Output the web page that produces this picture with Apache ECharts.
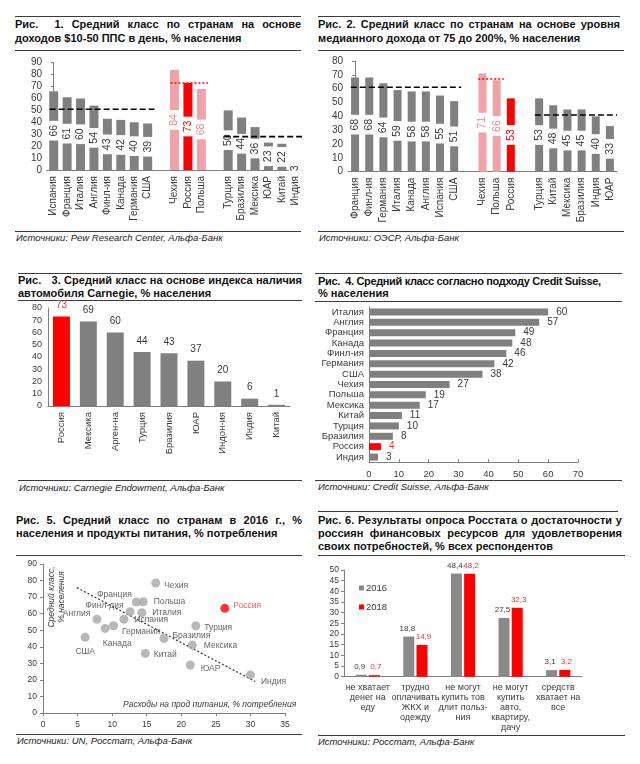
<!DOCTYPE html>
<html><head><meta charset="utf-8">
<script src="https://cdn.jsdelivr.net/npm/echarts@6/dist/echarts.min.js"></script>
<style>
body{margin:0;background:#fff;width:640px;height:764px;position:relative;overflow:hidden;font-family:"Liberation Sans",Arial,sans-serif;}
.hl{position:absolute;height:0;border-top:1.5px solid #3c3c3c;}
.t{position:absolute;font-weight:bold;font-size:11px;line-height:13px;color:#111;white-space:nowrap;}
.j{text-align:justify;text-align-last:justify;}
.src{position:absolute;font-style:italic;font-size:9.5px;color:#222;white-space:nowrap;}
.ch{position:absolute;}
</style></head><body>

<!-- Fig 1 -->
<div class="hl" style="left:15px;top:16px;width:286px"></div>
<div class="t j" style="left:15px;top:18px;width:286px">Рис.&nbsp; 1. Средний класс по странам на основе</div>
<div class="t" style="left:15px;top:32px">доходов $10-50 ППС в день, % населения</div>
<div class="hl" style="left:15px;top:50px;width:286px"></div>
<div class="ch" id="c1" style="left:0;top:55px;width:310px;height:175px"></div>
<div class="hl" style="left:15px;top:231px;width:286px"></div>
<div class="src" style="left:16px;top:232px">Источники: Pew Research Center, Альфа-Банк</div>

<!-- Fig 2 -->
<div class="hl" style="left:318px;top:16px;width:302px"></div>
<div class="t j" style="left:318px;top:18px;width:302px">Рис. 2. Средний класс по странам на основе уровня</div>
<div class="t" style="left:318px;top:31.5px">медианного дохода от 75 до 200%, % населения</div>
<div class="hl" style="left:318px;top:50px;width:306px"></div>
<div class="ch" id="c2" style="left:315px;top:55px;width:325px;height:175px"></div>
<div class="hl" style="left:318px;top:231px;width:306px"></div>
<div class="src" style="left:319px;top:232px">Источники: ОЭСР, Альфа-Банк</div>

<!-- Fig 3 -->
<div class="hl" style="left:18px;top:272.5px;width:284px"></div>
<div class="t j" style="left:18px;top:274px;width:284px">Рис.&nbsp;&nbsp; 3. Средний класс на основе индекса наличия</div>
<div class="t" style="left:18px;top:287px">автомобиля Carnegie, % населения</div>
<div class="hl" style="left:18px;top:300px;width:284px"></div>
<div class="ch" id="c3" style="left:0;top:300px;width:310px;height:180px"></div>
<div class="hl" style="left:18px;top:480px;width:284px"></div>
<div class="src" style="left:19px;top:482px">Источники: Carnegie Endowment, Альфа-Банк</div>

<!-- Fig 4 -->
<div class="hl" style="left:315px;top:273px;width:307px"></div>
<div class="t" style="left:318px;top:275px;letter-spacing:-0.35px">Рис.&nbsp; 4. Средний класс согласно подходу Credit Suisse,</div>
<div class="t" style="left:318px;top:287px">% населения</div>
<div class="hl" style="left:315px;top:300.5px;width:307px"></div>
<div class="ch" id="c4" style="left:315px;top:300px;width:325px;height:180px"></div>
<div class="hl" style="left:315px;top:480px;width:307px"></div>
<div class="src" style="left:318px;top:481px">Источники: Credit Suisse, Альфа-Банк</div>

<!-- Fig 5 -->
<div class="t j" style="left:16px;top:513.5px;width:286px">Рис. 5. Средний класс по странам в 2016 г., %</div>
<div class="t" style="left:16px;top:527px">населения и продукты питания, % потребления</div>
<div class="hl" style="left:16px;top:555px;width:286px"></div>
<div class="ch" id="c5" style="left:0;top:555px;width:310px;height:178px"></div>
<div class="hl" style="left:16px;top:734px;width:286px"></div>
<div class="src" style="left:17px;top:735px">Источники: UN, Росстат, Альфа-Банк</div>

<!-- Fig 6 -->
<div class="hl" style="left:318px;top:511px;width:300px"></div>
<div class="t j" style="left:318px;top:513.5px;width:304px">Рис. 6. Результаты опроса Росстата о достаточности у</div>
<div class="t j" style="left:318px;top:526.5px;width:304px">россиян финансовых ресурсов для удовлетворения</div>
<div class="t" style="left:318px;top:539.5px">своих потребностей, % всех респондентов</div>
<div class="hl" style="left:318px;top:555px;width:307px"></div>
<div class="ch" id="c6" style="left:315px;top:556px;width:325px;height:178px"></div>
<div class="hl" style="left:318px;top:735px;width:307px"></div>
<div class="src" style="left:318px;top:736px">Источники: Росстат, Альфа-Банк</div>

<script>
// ---------- DATA ----------
// Fig 1
const fig1Cats = ['Испания','Франция','Италия','Англия','Финл-ия','Канада','Германия','США','','Чехия','Россия','Польша','','Турция','Бразилия','Мексика','ЮАР','Китай','Индия'];
const fig1Vals = [66,61,60,54,43,42,40,39,null,84,73,68,null,50,44,36,23,22,3];
const fig1Light = ['Чехия','Польша'];
const fig1Red = ['Россия'];
const fig1Groups = [
  {first:'Испания', last:'США', avg:51, red:false},
  {first:'Чехия', last:'Польша', avg:73, red:true},
  {first:'Турция', last:'Индия', avg:28, red:false}
];
// Fig 2
const fig2Cats = ['Франция','Финл-ия','Германия','Италия','Канада','Англия','Испания','США','','Чехия','Польша','Россия','','Турция','Китай','Мексика','Бразилия','Индия','ЮАР'];
const fig2Vals = [68,68,64,59,58,58,55,51,null,71,66,53,null,53,48,45,45,40,33];
const fig2Light = ['Чехия','Польша'];
const fig2Red = ['Россия'];
const fig2Groups = [
  {first:'Франция', last:'США', avg:61, red:false},
  {first:'Чехия', last:'Польша', avg:67, red:true},
  {first:'Турция', last:'ЮАР', avg:41, red:false}
];
// Fig 3
const fig3Cats = ['Россия','Мексика','Арген-на','Турция','Бразилия','ЮАР','Индон-ия','Индия','Китай'];
const fig3Vals = [73,69,60,44,43,37,20,6,1];
// Fig 4
const fig4Cats = ['Италия','Англия','Франция','Канада','Финл-ия','Германия','США','Чехия','Польша','Мексика','Китай','Турция','Бразилия','Россия','Индия'];
const fig4Vals = [60,57,49,48,46,42,38,27,19,17,11,10,8,4,3];
// Fig 5
const fig5Names = ['Чехия','Франция','Польша','Финл-дия','Италия','Испания','Англия','Германия','Канада','США','Бразилия','Мексика','Китай','ЮАР','Индия','Турция','Россия'];
const fig5Food  = [16.3,13.5,14.5,12.6,14.3,11.7,7.8,10.2,9.0,6.1,17.5,21.6,14.8,21.3,30.0,22.1,26.3];
const fig5Mid   = [78.5,67.0,67.2,61.2,60.6,56.6,56.6,52.7,51.1,45.7,45.0,41.0,36.0,29.0,23.0,52.7,63.2];
const fig5Trend = [[4.9,75.7],[30.7,19.0]];
// Fig 6
const fig6Cats = ['не хватает\nденег на\nеду','трудно\nоплачивать\nЖКХ и\nодежду','не могут\nкупить тов\nдлит польз-\nния','не могут\nкупить\nавто,\nквартиру,\nдачу','средств\nхватает на\nвсе'];
const fig6Y2016 = [0.9,18.8,48.4,27.5,3.1];
const fig6Y2018 = [0.7,14.9,48.2,32.3,3.2];

// ---------- STYLE ----------
const FONT = '"Liberation Sans", Arial, sans-serif';
const AX = '#7f7f7f', TXT = '#3a3a3a', GREY = '#808080', LIGHT = '#eda3a8', RED = '#ff0000';
const axisCommon = {axisLine:{show:true,lineStyle:{color:AX,width:1}}, splitLine:{show:false}};

function floatBarChart(el, cats, vals, light, red, groups, ymax, grid, barW){
  const c = echarts.init(document.getElementById(el));
  const data = cats.map((n,i)=>{
    if(vals[i]==null) return null;
    let col = GREY, lc = TXT;
    if(light.includes(n)){col = LIGHT; lc = '#e88a92';}
    if(red.includes(n)){col = RED; lc = RED;}
    return {value:vals[i], itemStyle:{color:col}, label:{color:lc}};
  });
  const lines = groups.map(g=>({
    type:'line', xAxisIndex:1, yAxisIndex:0, symbol:'none', silent:true, z:5,
    data:[[cats.indexOf(g.first)-0.3, g.avg],[cats.indexOf(g.last)+0.5, g.avg]],
    lineStyle: g.red ? {color:RED,width:1.6,type:[2,2]} : {color:'#000',width:1.6,type:[6,3]}
  }));
  c.setOption({
    animation:false, textStyle:{fontFamily:FONT},
    grid:grid,
    xAxis:[
      Object.assign({type:'category', data:cats, axisTick:{show:false},
        axisLabel:{rotate:90, interval:0, fontSize:10, color:TXT, margin:6}}, axisCommon),
      {type:'value', min:-0.5, max:cats.length-0.5, show:false}
    ],
    yAxis:Object.assign({type:'value', min:0, max:ymax, interval:10,
      axisTick:{show:true,length:3,lineStyle:{color:AX}},
      axisLabel:{fontSize:10, color:TXT, margin:5}}, axisCommon),
    series:[{type:'bar', barWidth:barW, data:data, z:2,
      label:{show:true, position:'inside', rotate:90, backgroundColor:'#fff', padding:[1,4], fontSize:10.5, fontFamily:FONT}}].concat(lines)
  });
}

floatBarChart('c1', fig1Cats, fig1Vals, fig1Light, fig1Red, fig1Groups, 90, {left:47, top:7.7, width:255, height:107.3}, 9);
floatBarChart('c2', fig2Cats, fig2Vals, fig2Light, fig2Red, fig2Groups, 80, {left:33, top:6, width:269, height:110.7}, 8);

// Fig 3
(function(){
  const c = echarts.init(document.getElementById('c3'));
  c.setOption({
    animation:false, textStyle:{fontFamily:FONT},
    grid:{left:48, top:8, width:242, height:98},
    xAxis:Object.assign({type:'category', data:fig3Cats, axisTick:{show:false},
      axisLabel:{rotate:90, interval:0, fontSize:9.5, color:TXT, margin:6}}, axisCommon),
    yAxis:Object.assign({type:'value', min:0, max:80, interval:10, axisTick:{show:false},
      axisLabel:{fontSize:9, color:TXT, margin:6}}, axisCommon),
    series:[{type:'bar', barWidth:17,
      data:fig3Cats.map((n,i)=>({value:fig3Vals[i], itemStyle:{color:n==='Россия'?RED:GREY}, label:{color:n==='Россия'?'#e0393e':TXT}})),
      label:{show:true, position:'top', fontSize:10, distance:6}}]
  });
})();

// Fig 4
(function(){
  const c = echarts.init(document.getElementById('c4'));
  c.setOption({
    animation:false, textStyle:{fontFamily:FONT},
    grid:{left:54, top:6.8, width:209, height:155.4},
    yAxis:Object.assign({type:'category', data:fig4Cats, inverse:true, axisTick:{show:false},
      axisLabel:{interval:0, fontSize:9.5, color:TXT, margin:5}}, axisCommon),
    xAxis:Object.assign({type:'value', min:0, max:70, interval:10,
      axisTick:{show:true, length:3, inside:true, lineStyle:{color:AX}},
      axisLabel:{fontSize:9.5, color:TXT, margin:7}}, axisCommon),
    series:[{type:'bar', barWidth:7,
      data:fig4Cats.map((n,i)=>({value:fig4Vals[i], itemStyle:{color:n==='Россия'?RED:GREY}, label:{color:n==='Россия'?'#e0393e':TXT}})),
      label:{show:true, position:'right', fontSize:10, distance:8}}]
  });
})();

// Fig 5
(function(){
  const c = echarts.init(document.getElementById('c5'));
  const lab = {
    'Чехия':{position:'right', offset:[0,3]},
    'Франция':{position:'left', offset:[4,-7]},
    'Польша':{position:'right', offset:[2,0]},
    'Финл-дия':{position:'left', offset:[2,-6]},
    'Италия':{position:'right', offset:[2,0]},
    'Испания':{position:'right', offset:[2,0]},
    'Англия':{position:'left', offset:[2,-6]},
    'Германия':{position:'right', offset:[0,6]},
    'Канада':{position:'bottom', offset:[12,2]},
    'США':{position:'bottom', offset:[0,1]},
    'Бразилия':{position:'right', offset:[0,-3]},
    'Мексика':{position:'right', offset:[3,1]},
    'Китай':{position:'right', offset:[0,1]},
    'ЮАР':{position:'right', offset:[2,4]},
    'Индия':{position:'right', offset:[2,7]},
    'Турция':{position:'right', offset:[0,2]},
    'Россия':{position:'right', offset:[0,-3]}
  };
  const pts = fig5Names.map((n,i)=>({
    name:n, value:[fig5Food[i], fig5Mid[i]],
    itemStyle:{color: n==='Россия'?RED:'#a6a6a6'},
    label:Object.assign({show:true, formatter:'{b}', fontSize:8.5, color:n==='Россия'?'#e0393e':TXT, distance:4}, lab[n])
  }));
  c.setOption({
    animation:false, textStyle:{fontFamily:FONT},
    grid:{left:43, top:9, width:242, height:149},
    xAxis:Object.assign({type:'value', min:0, max:35, interval:5,
      axisTick:{show:true, length:3, lineStyle:{color:AX}},
      axisLabel:{fontSize:8.5, color:TXT, margin:7}}, axisCommon),
    yAxis:Object.assign({type:'value', min:0, max:90, interval:10,
      axisTick:{show:true, length:3, lineStyle:{color:AX}},
      axisLabel:{fontSize:8.5, color:TXT, margin:6}}, axisCommon),
    graphic:[
      {type:'text', left:123, top:145, style:{text:'Расходы на прод питания, % потребления', font:'italic 8.5px '+FONT, fill:TXT}},
      {type:'text', x:47, y:42, rotation:Math.PI/2, style:{text:'Средний класс,\n% населения', font:'italic 8.5px '+FONT, fill:TXT, align:'center', lineHeight:10}}
    ],
    series:[
      {type:'line', data:fig5Trend, symbol:'none', silent:true, lineStyle:{color:'#404040', width:1.3, type:[2,2]}, z:1},
      {type:'scatter', symbolSize:9, data:pts, z:3}
    ]
  });
})();

// Fig 6
(function(){
  const c = echarts.init(document.getElementById('c6'));
  const fmt = p => String(p.value).replace('.', ',');
  c.setOption({
    animation:false, textStyle:{fontFamily:FONT},
    grid:{left:29, top:14, width:238, height:106.7},
    legend:{orient:'vertical', left:39, top:22, icon:'rect', itemWidth:5, itemHeight:5, itemGap:9,
      textStyle:{fontSize:9.5, color:TXT, padding:[0,0,0,-3]}, data:['2016','2018']},
    xAxis:Object.assign({type:'category', data:fig6Cats, axisTick:{show:false},
      axisLabel:{interval:0, fontSize:9, lineHeight:10, color:TXT, margin:6}}, axisCommon),
    yAxis:Object.assign({type:'value', min:0, max:50, interval:5,
      axisTick:{show:true, length:3, lineStyle:{color:AX}},
      axisLabel:{fontSize:8.5, color:TXT, margin:5}}, axisCommon),
    series:[
      {name:'2016', type:'bar', barWidth:11, barGap:'20%', data:fig6Y2016, itemStyle:{color:'#8a8a8a'},
        label:{show:true, position:'top', fontSize:8, color:TXT, formatter:fmt, distance:4, offset:[-1.5,0]}},
      {name:'2018', type:'bar', barWidth:11, data:fig6Y2018, itemStyle:{color:RED},
        label:{show:true, position:'top', fontSize:8, color:'#e0393e', formatter:fmt, distance:4, offset:[1.5,0]}}
    ]
  });
})();
</script>
</body></html>
